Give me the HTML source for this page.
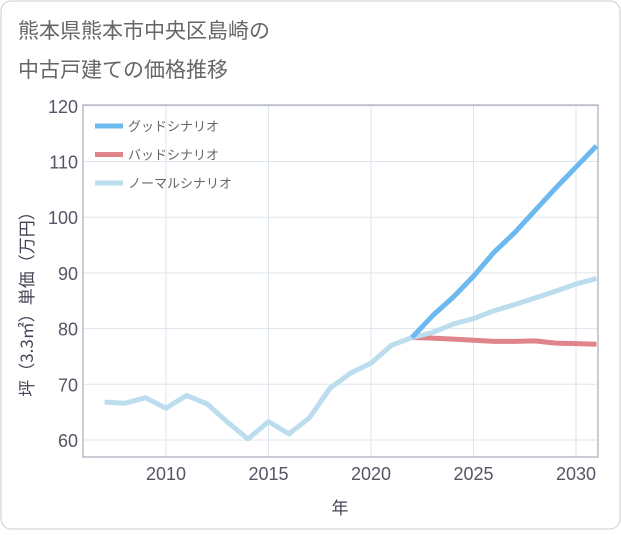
<!DOCTYPE html>
<html><head><meta charset="utf-8"><style>
body{margin:0;background:#fff;font-family:"Liberation Sans","Noto Sans CJK JP",sans-serif;}
#wrap{position:relative;width:621px;height:530px;}
</style></head><body>
<div id="wrap">
<svg id="chart" width="621" height="530" xmlns="http://www.w3.org/2000/svg">
<rect x="1" y="1" width="619" height="528" rx="10" fill="#fff" stroke="#ccc"/>
<text x="18" y="38" font-size="21" fill="#666" font-family="Liberation Sans, Noto Sans CJK JP, sans-serif">熊本県熊本市中央区島崎の</text>
<text x="18" y="77" font-size="21" fill="#666" font-family="Liberation Sans, Noto Sans CJK JP, sans-serif">中古戸建ての価格推移</text>
<g id="grid"></g><g id="series"></g><g id="legend"></g>
<text x="340" y="514" font-size="17" fill="#445" text-anchor="middle" font-family="Noto Sans CJK JP, sans-serif">年</text>
<text transform="translate(33,300) rotate(-90)" font-size="17" fill="#445" text-anchor="middle" font-family="Noto Sans CJK JP, sans-serif">坪（3.3㎡）単価（万円）</text>
</svg></div>
<script>
const years=[2007,2008,2009,2010,2011,2012,2013,2014,2015,2016,2017,2018,2019,2020,2021,2022,2023,2024,2025,2026,2027,2028,2029,2030,2031];
const normalValues=[66.8,66.6,67.6,65.7,68,66.5,63.2,60.2,63.3,61.1,64,69.3,72,73.8,77,78.4,79.3,80.8,81.8,83.2,84.3,85.5,86.7,88,89];
const futureYears=[2022,2023,2024,2025,2026,2027,2028,2029,2030,2031];
const goodValues=[78.4,82.3,85.6,89.4,93.7,97.2,101.2,105.2,109,112.8];
const badValues=[78.4,78.3,78.1,77.9,77.7,77.7,77.8,77.4,77.3,77.2];
const xTicks=[2010,2015,2020,2025,2030];
const yTicks=[60,70,80,90,100,110,120];
const legendLabels=["グッドシナリオ","バッドシナリオ","ノーマルシナリオ"];
const legendColors=["#6cb9ef","#e0838a","#bcdded"];
const L=83,R=598,T=105,B=457;
const x=v=>166+(v-2010)*20.5;
const y=v=>440-(v-60)*5.57;
const NS="http://www.w3.org/2000/svg";
function mk(t,a,p){const e=document.createElementNS(NS,t);for(const k in a)e.setAttribute(k,a[k]);p.appendChild(e);return e;}
const g=document.getElementById('grid');
for(const t of yTicks){
 const l=mk('line',{x1:L,x2:R,y1:y(t),y2:y(t),stroke:'#dde6ee'},g);
 
 
 const tx=mk('text',{x:L-5,y:y(t)+7,'font-size':18,fill:'#556','text-anchor':'end'},g);tx.textContent=t;
 
 
}
for(const t of xTicks){
 const l=mk('line',{x1:x(t),x2:x(t),y1:T,y2:B,stroke:'#dde6ee'},g);
 
 
 const tx=mk('text',{x:x(t),y:480,'font-size':18,fill:'#556','text-anchor':'middle'},g);tx.textContent=t;
 
 
}
const fr=mk('rect',{x:L,y:T,width:R-L,height:B-T,fill:'none',stroke:'#99a'},g);


const s=document.getElementById('series');
function line(xs,vs,c,n){
 const p=mk('polyline',{points:xs.map((v,i)=>x(v)+','+y(vs[i])).join(' '),fill:'none',stroke:c,'stroke-width':5,'stroke-linejoin':'round'},s);
 
 
}
line(futureYears,badValues,legendColors[1],'bad-scenario-line');
line(years,normalValues,legendColors[2],'normal-scenario-line');
line(futureYears,goodValues,legendColors[0],'good-scenario-line');
const lg=document.getElementById('legend');
legendLabels.forEach((t,i)=>{
 const yy=126+i*28.5;
 const l=mk('line',{x1:95,x2:123,y1:yy,y2:yy,stroke:legendColors[i],'stroke-width':5},lg);
 
 
 const tx=mk('text',{x:128,y:yy+5,'font-size':13,fill:'#666','font-family':'Noto Sans CJK JP, sans-serif'},lg);tx.textContent=t;
 
 
});
</script>
</body></html>
